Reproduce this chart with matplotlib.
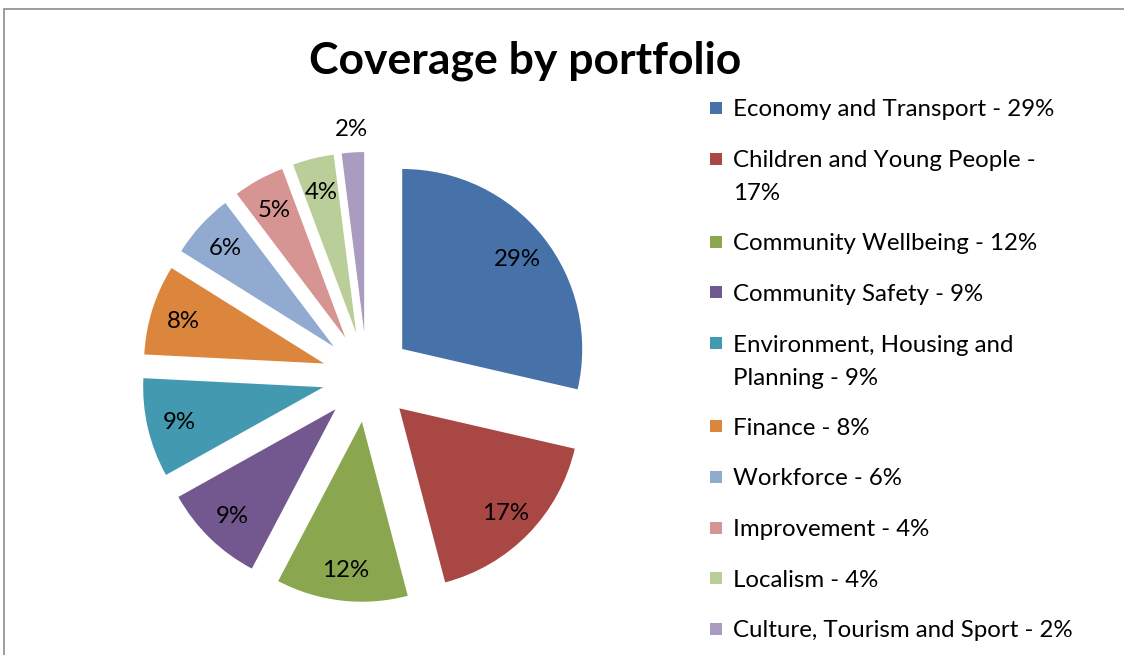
import matplotlib
matplotlib.use("Agg")
import matplotlib.pyplot as plt
from matplotlib.patches import Rectangle

# chart data (percent shares)
portfolios = [
    "Economy and Transport - 29%",
    "Children and Young People -\n17%",
    "Community Wellbeing - 12%",
    "Community Safety - 9%",
    "Environment, Housing and\nPlanning - 9%",
    "Finance - 8%",
    "Workforce - 6%",
    "Improvement - 4%",
    "Localism - 4%",
    "Culture, Tourism and Sport - 2%",
]
shares = [28.6, 17.3, 11.8, 9.2, 8.9, 8.1, 5.8, 4.6, 3.7, 2.0]
colors = ['#4672A9', '#A94744', '#8AA74F', '#72588F', '#4299B0',
          '#DC853D', '#91AACF', '#D69493', '#B9CE98', '#A99CC0']

W, H = 1124, 655
FONT = 'Lato'
FS = 17.3

fig = plt.figure(figsize=(W / 100, H / 100), dpi=100)
fig.patch.set_facecolor('white')

# outer chart frame (only top/left visible in the crop)
fig.patches.append(Rectangle((3.5 / W, -0.1), 1.2, 1.1 - 9.5 / H,
                             transform=fig.transFigure, fill=False,
                             edgecolor='#8c8c8c', linewidth=1.2))

# pie axes: centre at (367, 377) px, radius 180 px
cx, cy, r = 367, 377, 180
span = 1.4
ax = fig.add_axes([(cx - span * r) / W, (H - cy - span * r) / H,
                   2 * span * r / W, 2 * span * r / H])

wedges, texts, autotexts = ax.pie(
    shares, colors=colors, startangle=90, counterclock=False,
    explode=[0.25] * len(shares), autopct='%.0f%%', pctdistance=0.82,
    wedgeprops=dict(linewidth=0),
    textprops=dict(fontsize=FS, family=FONT, color='black'))

# pie() resets the limits, so set them afterwards
ax.set_xlim(-span, span)
ax.set_ylim(-span, span)
ax.set_aspect('equal')
ax.axis('off')

for t in autotexts:
    t.set_va('center_baseline')

# the smallest slice gets its label outside, like Excel's best fit
x, y = autotexts[-1].get_position()
autotexts[-1].set_position((x * 1.39 / 1.07, y * 1.39 / 1.07))

fig.text(525 / W, 1 - 57 / H, 'Coverage by portfolio', ha='center',
         va='center_baseline', fontsize=32, fontweight='bold', family=FONT)

# legend drawn Excel style: square marker aligned with first text line
row_y = 108
for label, col in zip(portfolios, colors):
    lines = label.split("\n")
    fig.patches.append(Rectangle((710 / W, 1 - (row_y + 6) / H), 12 / W, 12 / H,
                                 transform=fig.transFigure, facecolor=col,
                                 edgecolor='none'))
    for j, line in enumerate(lines):
        fig.text(733 / W, 1 - (row_y + j * 33) / H, line, ha='left',
                 va='center_baseline', fontsize=FS, family=FONT)
    row_y += 50.7 + 32.3 * (len(lines) - 1)

fig.savefig('out.png', dpi=100)
